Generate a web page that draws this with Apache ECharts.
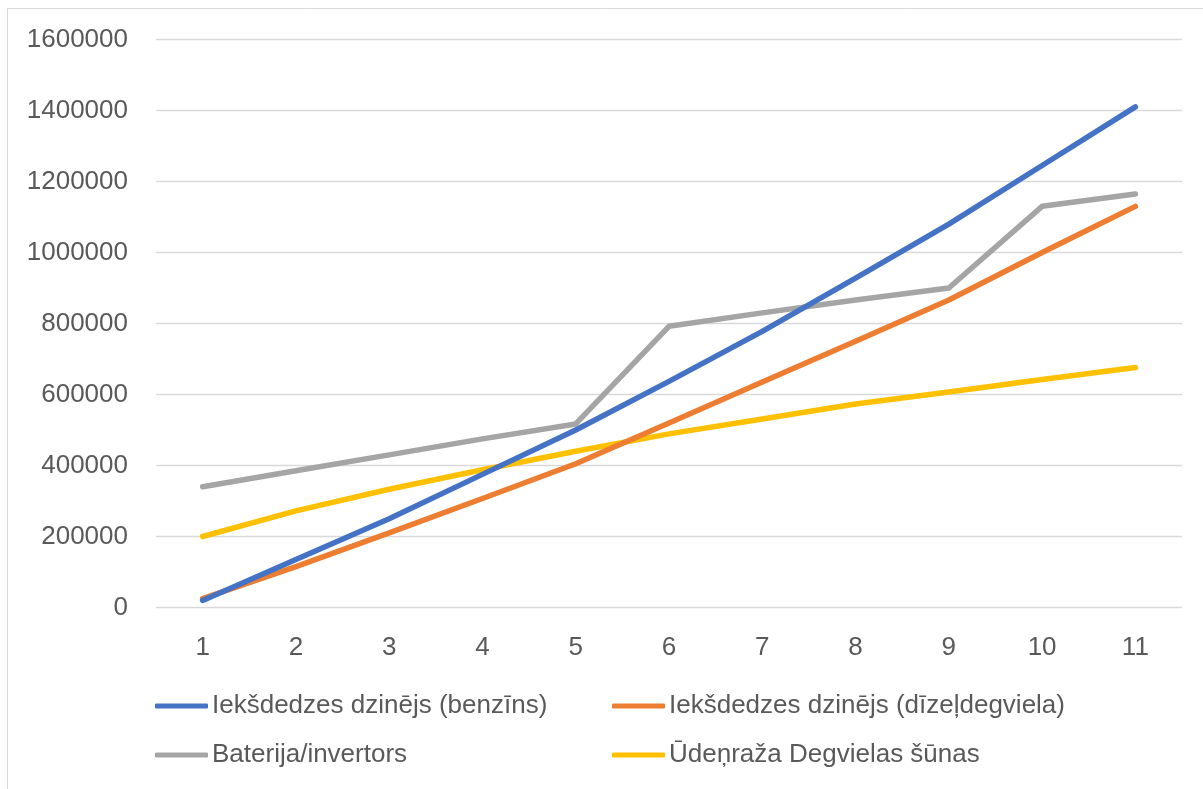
<!DOCTYPE html>
<html>
<head>
<meta charset="utf-8">
<script src="https://cdn.jsdelivr.net/npm/echarts@6/dist/echarts.min.js"></script>
<style>
  html, body { margin: 0; padding: 0; background: #ffffff; }
  #chart { width: 1203px; height: 789px; }
</style>
</head>
<body>
<div id="chart"></div>
<script>
// Categories (x axis) and series values
const categories = ['1', '2', '3', '4', '5', '6', '7', '8', '9', '10', '11'];

const seriesNames = [
  'Iekšdedzes dzinējs (benzīns)',
  'Iekšdedzes dzinējs (dīzeļdegviela)',
  'Baterija/invertors',
  'Ūdeņraža Degvielas šūnas'
];

const benzins = [20000, 135000, 250000, 375000, 500000, 637000, 778000, 928000, 1080000, 1245000, 1410000];
const dizelis = [25000, 115000, 210000, 307000, 405000, 520000, 635000, 750000, 866000, 1000000, 1130000];
const baterija = [340000, 385000, 430000, 475000, 517000, 792000, 830000, 866000, 900000, 1130000, 1165000];
const udenradis = [200000, 272000, 333000, 388000, 440000, 489000, 531000, 573000, 607000, 642000, 676000];

const yTicks = { min: 0, max: 1600000, interval: 200000 };

const colors = ['#4472C4', '#ED7D31', '#A5A5A5', '#FFC000'];
const values = [benzins, dizelis, baterija, udenradis];

const FONT = '"Liberation Sans", Arial, sans-serif';
const TEXT = '#595959';

const chart = echarts.init(document.getElementById('chart'), null, { renderer: 'canvas' });

function legendAt(name, left, top) {
  return {
    data: [name],
    left: left,
    top: top,
    icon: 'roundRect',
    itemWidth: 53,
    itemHeight: 5,
    padding: 0,
    selectedMode: false,
    textStyle: { fontFamily: FONT, fontSize: 26, color: TEXT, padding: [0, 0, 0, -1] }
  };
}

chart.setOption({
  animation: false,
  backgroundColor: '#ffffff',
  color: colors,
  graphic: [{
    type: 'rect',
    shape: { x: 7.5, y: 8.5, width: 1400, height: 1000 },
    style: { fill: 'none', stroke: '#d9d9d9', lineWidth: 1 },
    silent: true
  }],
  grid: { left: 156, right: 21, top: 39.5, bottom: 181.5, containLabel: false },
  legend: [
    legendAt(seriesNames[0], 155, 693),
    legendAt(seriesNames[1], 612, 693),
    legendAt(seriesNames[2], 155, 742),
    legendAt(seriesNames[3], 612, 742)
  ],
  xAxis: {
    type: 'category',
    data: categories,
    boundaryGap: true,
    axisLine: { show: false },
    axisTick: { show: false },
    axisLabel: { color: TEXT, fontFamily: FONT, fontSize: 26, margin: 27 }
  },
  yAxis: {
    type: 'value',
    min: yTicks.min,
    max: yTicks.max,
    interval: yTicks.interval,
    axisLine: { show: false },
    axisTick: { show: false },
    splitLine: { lineStyle: { color: '#d9d9d9', width: 1.3 } },
    axisLabel: {
      color: TEXT, fontFamily: FONT, fontSize: 26, margin: 28,
      formatter: (v) => String(v)
    }
  },
  series: seriesNames.map((name, i) => ({
    name: name,
    type: 'line',
    data: values[i],
    showSymbol: false,
    symbol: 'none',
    lineStyle: { width: 5.5, color: colors[i], cap: 'round', join: 'round' },
    itemStyle: { color: colors[i] },
    z: 2 + (3 - i)
  }))
});
</script>
</body>
</html>
